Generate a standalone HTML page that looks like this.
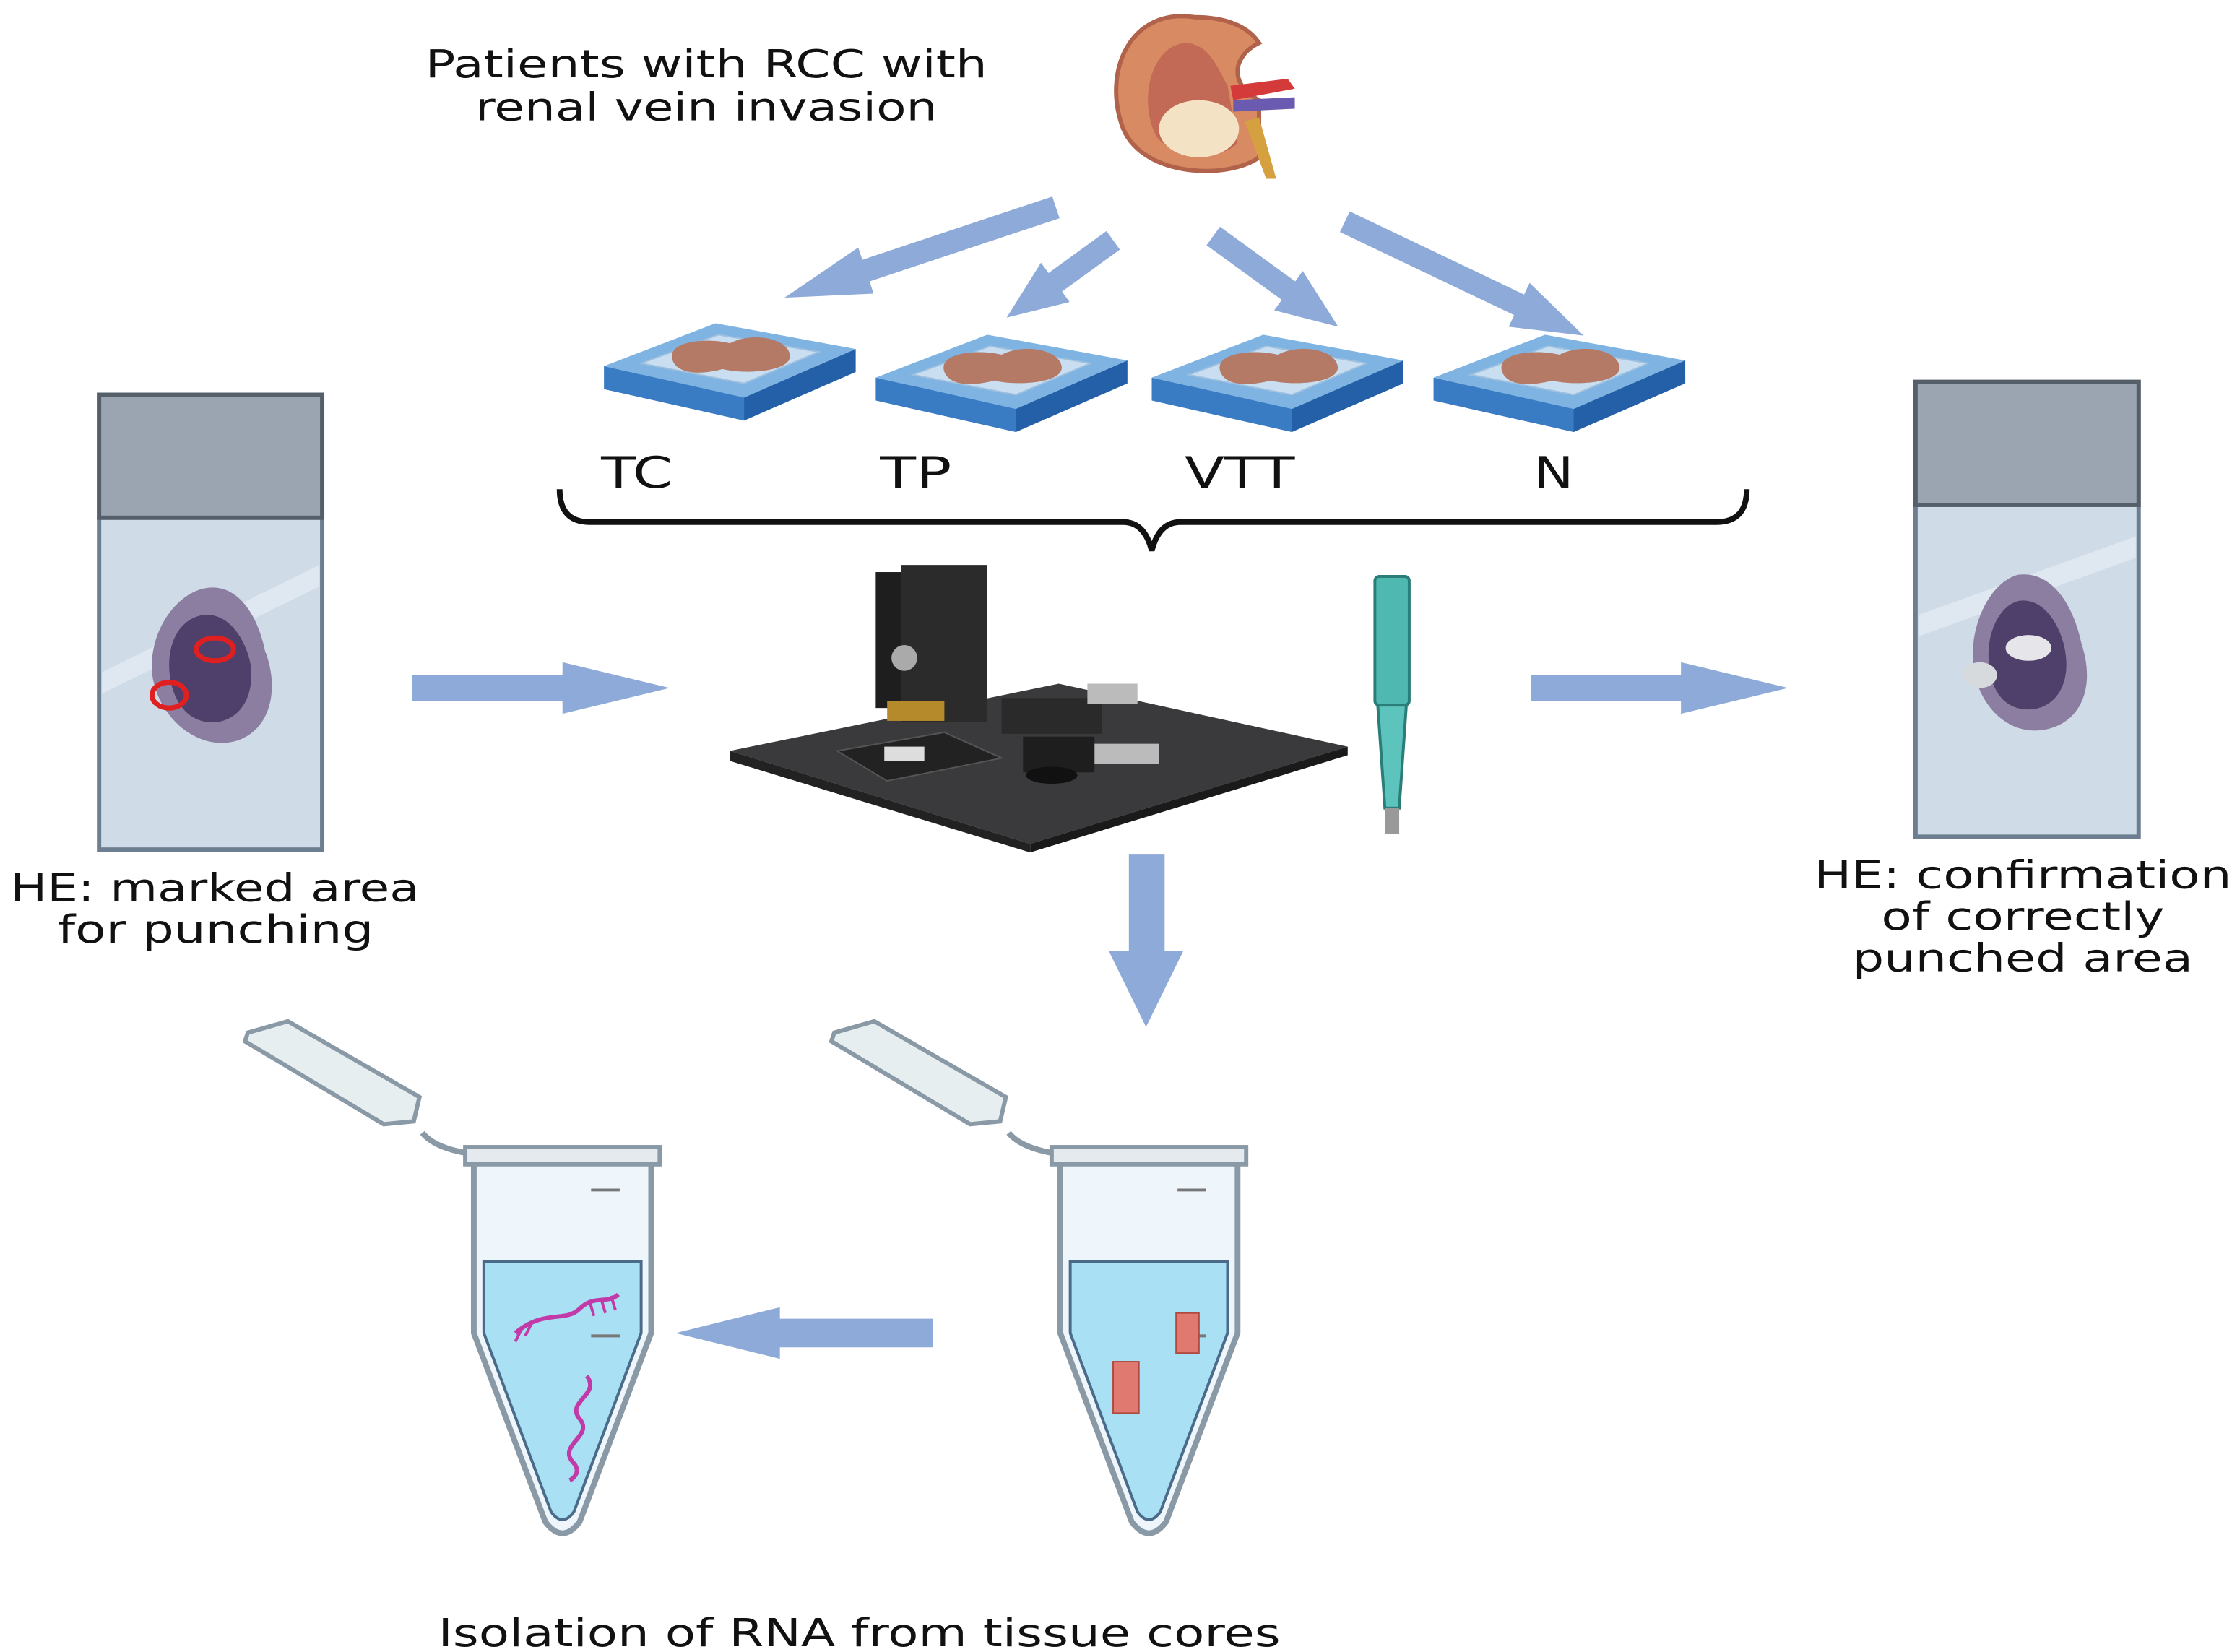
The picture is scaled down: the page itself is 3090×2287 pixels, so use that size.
<!DOCTYPE html>
<html><head><meta charset="utf-8"><style>
html,body{margin:0;padding:0;background:#fff;}
svg{display:block;}
text{font-family:"DejaVu Sans","Liberation Sans",sans-serif;fill:#111;}
</style></head><body>
<svg width="3090" height="2287" viewBox="0 0 1560 1155" xmlns="http://www.w3.org/2000/svg">
<defs>
<g id="slab">
 <polygon points="-88,0 -10,-30 88,-12 10,22" fill="#2f6fb8"/>
 <polygon points="-88,-16 -10,-46 88,-28 10,6" fill="#7fb4e2"/>
 <polygon points="-88,-16 10,6 10,22 -88,0" fill="#3a7cc4"/>
 <polygon points="10,6 88,-28 88,-12 10,22" fill="#2460a8"/>
 <polygon points="-62,-18 -8,-38 62,-26 10,-4" fill="#c9def0" stroke="#9fc0df"/>
 <path d="M-40,-20 C-45,-34 -15,-36 0,-32 C15,-40 40,-36 42,-24 C44,-12 10,-10 -5,-14 C-20,-10 -36,-10 -40,-20Z" fill="#b57a66"/>
</g>
<g id="arrowR"><polygon points="0,-9 105,-9 105,-18 180,0 105,18 105,9 0,9" fill="#8eaad8"/></g>
<g id="tube">
 <path d="M-62,10 L62,10 L62,130 L12,262 Q0,278 -12,262 L-62,130Z" fill="#eef6fb" stroke="#8a99a6" stroke-width="4"/>
 <path d="M-55,80 L55,80 L55,130 L8,255 Q0,266 -8,255 L-55,130Z" fill="#a9e0f3" stroke="#4a6b8a" stroke-width="2"/>
 <rect x="-68" y="0" width="136" height="12" fill="#e5eaee" stroke="#8a99a6" stroke-width="3"/>
 <line x1="20" y1="30" x2="40" y2="30" stroke="#777" stroke-width="2"/>
 <line x1="20" y1="132" x2="40" y2="132" stroke="#777" stroke-width="2"/>
 <path d="M-68,4 Q-90,0 -98,-10" fill="none" stroke="#8a99a6" stroke-width="4"/>
 <polygon points="-220,-80 -192,-88 -100,-35 -104,-18 -125,-16 -222,-74" fill="#e7eef0" stroke="#8a99a6" stroke-width="3"/>
</g>
</defs>

<text x="297" y="54" font-size="27" textLength="393" lengthAdjust="spacingAndGlyphs">Patients with RCC with</text>
<text x="332" y="84" font-size="27" textLength="323" lengthAdjust="spacingAndGlyphs">renal vein invasion</text>

<!-- kidney -->
<g>
 <path d="M835,12 C790,5 770,50 785,90 C800,125 860,125 880,110 L880,70 C860,60 860,40 880,30 C870,15 850,12 835,12Z" fill="#d88a62" stroke="#b0634a" stroke-width="3"/>
 <path d="M830,30 C805,30 795,70 808,95 C820,112 855,112 865,100 L858,60 C850,45 845,32 830,30Z" fill="#c26a55"/>
 <ellipse cx="838" cy="90" rx="28" ry="20" fill="#f4e2c5"/>
 <path d="M860,60 L900,55 L905,62 L862,70Z" fill="#d43a3a"/>
 <path d="M862,70 L905,68 L905,76 L862,78Z" fill="#6a5ab0"/>
 <path d="M870,85 L885,125 L892,125 L880,82Z" fill="#d4a040"/>
</g>

<!-- top arrows -->
<g fill="#8eaad8">
 <g transform="translate(738,145) rotate(161.6)"><polygon points="0,-8 140,-8 140,-17 200,0 140,17 140,8 0,8"/></g>
 <g transform="translate(778,168) rotate(144)"><polygon points="0,-8 50,-8 50,-17 92,0 50,17 50,8 0,8"/></g>
 <g transform="translate(848,165) rotate(36)"><polygon points="0,-8 65,-8 65,-17 108,0 65,17 65,8 0,8"/></g>
 <g transform="translate(940,155) rotate(25.5)"><polygon points="0,-8 135,-8 135,-17 185,0 135,17 135,8 0,8"/></g>
</g>

<use href="#slab" x="510" y="272"/>
<use href="#slab" x="700" y="280"/>
<use href="#slab" x="893" y="280"/>
<use href="#slab" x="1090" y="280"/>

<text x="420" y="341" font-size="30" textLength="50" lengthAdjust="spacingAndGlyphs">TC</text>
<text x="615" y="341" font-size="30" textLength="50" lengthAdjust="spacingAndGlyphs">TP</text>
<text x="828" y="341" font-size="30" textLength="77" lengthAdjust="spacingAndGlyphs">VTT</text>
<text x="1072" y="341" font-size="30" textLength="28" lengthAdjust="spacingAndGlyphs">N</text>

<path d="M391,342 Q391,365 412,365 L785,365 Q800,365 805,385 Q810,365 825,365 L1200,365 Q1221,365 1221,342" fill="none" stroke="#111" stroke-width="4"/>

<!-- left slide -->
<rect x="69" y="276" width="156" height="318" fill="#cfdbe6" stroke="#6c7e90" stroke-width="3"/>
<rect x="69" y="276" width="156" height="86" fill="#9aa5b1" stroke="#555f6a" stroke-width="3"/>
<polygon points="71,470 223,395 223,410 71,485" fill="#e6edf3" opacity="0.7"/>
<path d="M140,412 C165,405 180,430 185,455 C195,480 190,510 165,518 C140,525 115,505 108,480 C100,455 115,420 140,412Z" fill="#8c7ea0"/>
<path d="M142,430 C160,428 172,448 175,465 C178,490 165,505 148,505 C128,505 118,485 118,465 C118,445 128,432 142,430Z" fill="#4f3f6b"/>
<ellipse cx="150" cy="454" rx="13" ry="8" fill="none" stroke="#e02020" stroke-width="3.5"/>
<ellipse cx="118" cy="486" rx="12" ry="9" fill="none" stroke="#e02020" stroke-width="3.5"/>

<text x="7" y="630" font-size="27" textLength="286" lengthAdjust="spacingAndGlyphs">HE: marked area</text>
<text x="40" y="659" font-size="27" textLength="221" lengthAdjust="spacingAndGlyphs">for punching</text>

<use href="#arrowR" x="288" y="481"/>
<use href="#arrowR" x="1070" y="481"/>

<!-- machine -->
<polygon points="510,525 740,478 942,522 720,590" fill="#3a3a3c"/>
<polygon points="510,525 720,590 720,596 510,532" fill="#222"/>
<polygon points="720,590 942,522 942,528 720,596" fill="#1a1a1a"/>
<polygon points="585,525 660,512 700,530 620,546" fill="#222" stroke="#555"/>
<rect x="618" y="522" width="28" height="10" fill="#ddd"/>
<rect x="612" y="400" width="50" height="95" fill="#1e1e1e"/>
<polygon points="630,395 690,395 690,505 630,505" fill="#2b2b2b"/>
<circle cx="632" cy="460" r="9" fill="#aaa"/>
<rect x="620" y="490" width="40" height="14" fill="#b58a2a"/>
<rect x="700" y="488" width="70" height="25" fill="#2a2a2a"/>
<rect x="760" y="478" width="35" height="14" fill="#bbb"/>
<rect x="715" y="515" width="50" height="25" fill="#1e1e1e"/>
<rect x="765" y="520" width="45" height="14" fill="#bbb"/>
<ellipse cx="735" cy="542" rx="18" ry="6" fill="#111"/>

<!-- punch tool -->
<rect x="961" y="403" width="24" height="90" rx="3" fill="#4fb8b0" stroke="#2a7d78" stroke-width="2"/>
<polygon points="963,493 983,493 978,565 968,565" fill="#5cc4bc" stroke="#2a7d78" stroke-width="2"/>
<rect x="968" y="565" width="10" height="18" fill="#999"/>

<!-- right slide -->
<rect x="1339" y="267" width="156" height="318" fill="#cfdbe6" stroke="#6c7e90" stroke-width="3"/>
<rect x="1339" y="267" width="156" height="86" fill="#9aa5b1" stroke="#555f6a" stroke-width="3"/>
<polygon points="1341,430 1493,375 1493,390 1341,445" fill="#e6edf3" opacity="0.7"/>
<path d="M1410,402 C1435,398 1450,425 1455,450 C1465,480 1455,505 1430,510 C1405,515 1385,495 1380,470 C1375,440 1390,408 1410,402Z" fill="#8c7ea0"/>
<path d="M1412,420 C1430,418 1442,440 1444,458 C1447,482 1434,496 1418,496 C1398,496 1390,478 1390,458 C1390,438 1400,422 1412,420Z" fill="#4f3f6b"/>
<ellipse cx="1418" cy="453" rx="16" ry="9" fill="#e6e6ea"/>
<ellipse cx="1384" cy="472" rx="12" ry="9" fill="#d7dadd"/>

<text x="1268" y="621" font-size="27" textLength="292" lengthAdjust="spacingAndGlyphs">HE: confirmation</text>
<text x="1315" y="650" font-size="27" textLength="198" lengthAdjust="spacingAndGlyphs">of correctly</text>
<text x="1295" y="679" font-size="27" textLength="238" lengthAdjust="spacingAndGlyphs">punched area</text>

<!-- down arrow -->
<polygon points="789,597 814,597 814,665 827,665 801,718 775,665 789,665" fill="#8eaad8"/>

<!-- tubes -->
<use href="#tube" x="393" y="802"/>
<use href="#tube" x="803" y="802"/>

<!-- RNA -->
<path d="M360,932 C380,915 395,925 405,915 C415,905 425,912 432,905" fill="none" stroke="#c23aa8" stroke-width="3"/>
<g stroke="#c23aa8" stroke-width="2">
 <line x1="365" y1="928" x2="360" y2="938"/><line x1="372" y1="924" x2="367" y2="934"/>
 <line x1="412" y1="910" x2="415" y2="920"/><line x1="420" y1="908" x2="423" y2="918"/><line x1="427" y1="906" x2="430" y2="916"/>
</g>
<path d="M410,962 C420,975 395,980 405,992 C415,1004 390,1010 400,1022 C408,1030 398,1035 398,1035" fill="none" stroke="#c23aa8" stroke-width="3"/>

<!-- tissue cores -->
<rect x="822" y="918" width="16" height="28" fill="#e07a70" stroke="#b04a40"/>
<rect x="778" y="952" width="18" height="36" fill="#e07a70" stroke="#b04a40"/>

<!-- left arrow -->
<polygon points="652,922 545,922 545,914 472,932 545,950 545,942 652,942" fill="#8eaad8"/>

<text x="306" y="1151" font-size="27" textLength="589" lengthAdjust="spacingAndGlyphs">Isolation of RNA from tissue cores</text>
</svg>
</body></html>
